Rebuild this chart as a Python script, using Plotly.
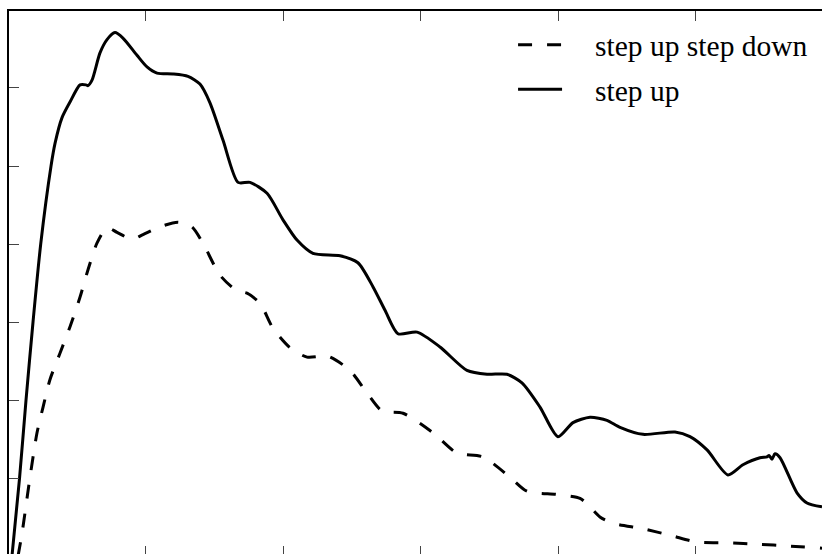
import plotly.graph_objects as go

# x in axis units (ticks every 10), y in axis units (ticks every 1)
step_up_x = [0.29, 0.84, 1.31, 1.82, 2.38, 3.13, 3.42, 3.93, 4.51, 5.24, 5.67, 5.82, 6.11,
             6.69, 7.20, 7.78, 8.36, 9.38, 10.11, 10.84, 12.00, 13.09, 13.96, 14.69, 15.64,
             16.73, 17.60, 18.84, 20.00, 21.02, 22.18, 24.15, 25.45, 26.55, 27.42, 28.36,
             29.75, 31.42, 33.38, 34.84, 36.29, 37.38, 38.69, 40.00, 41.09, 42.33, 43.56,
             44.51, 46.18, 48.51, 49.60, 50.84, 52.36, 53.45, 54.69, 55.20, 55.35, 55.56,
             55.78, 56.15, 57.38, 58.11, 59.20]
step_up_y = [0.00, 1.00, 2.00, 3.00, 4.00, 5.00, 5.29, 5.62, 5.82, 6.04, 6.04, 6.03, 6.10,
             6.45, 6.62, 6.71, 6.64, 6.42, 6.27, 6.19, 6.18, 6.15, 6.05, 5.81, 5.33,
             4.79, 4.79, 4.65, 4.31, 4.05, 3.88, 3.85, 3.76, 3.45, 3.15, 2.85,
             2.87, 2.68, 2.38, 2.33, 2.33, 2.22, 1.91, 1.53, 1.71, 1.78, 1.74,
             1.65, 1.56, 1.59, 1.53, 1.36, 1.04, 1.17, 1.26, 1.27, 1.29, 1.24,
             1.31, 1.26, 0.81, 0.68, 0.63]

step_updown_x = [0.73, 1.02, 1.60, 2.11, 2.55, 3.05, 3.78, 4.51, 5.24, 5.82, 6.47, 7.20,
                 7.93, 9.02, 9.82, 11.05, 12.36, 13.38, 14.18, 15.42, 16.65, 17.38, 18.33,
                 19.27, 20.51, 21.75, 23.27, 24.87, 26.11, 27.20, 28.73, 30.91, 32.65,
                 34.55, 36.51, 37.75, 39.93, 41.60, 42.33, 43.05, 44.00, 46.18, 48.29,
                 50.11, 52.29, 54.69, 56.65, 59.20]
step_updown_y = [0.00, 0.29, 1.01, 1.58, 1.91, 2.26, 2.60, 2.94, 3.32, 3.67, 4.01, 4.21,
                 4.15, 4.06, 4.12, 4.22, 4.28, 4.22, 4.01, 3.60, 3.40, 3.37, 3.24,
                 2.92, 2.67, 2.55, 2.56, 2.38, 2.09, 1.86, 1.83, 1.58, 1.32,
                 1.27, 1.01, 0.83, 0.79, 0.74, 0.63, 0.50, 0.42, 0.35, 0.26,
                 0.18, 0.17, 0.15, 0.13, 0.10]

x_ticks = [10, 20, 30, 40, 50]
y_ticks = [1, 2, 3, 4, 5, 6]
x_range = [0.073, 59.2]
y_range = [0.026, 6.987]

PAD = "\u00a0" * 3 + "\u2009"
fig = go.Figure()
fig.add_trace(go.Scatter(x=step_updown_x, y=step_updown_y, mode="lines",
                         name=PAD + "step up step down", legendgroup="a",
                         line=dict(color="black", width=3, dash="14px,15px",
                                   shape="spline", smoothing=0.7)))
fig.add_trace(go.Scatter(x=step_up_x, y=step_up_y, mode="lines", name=PAD + "step up",
                         legendgroup="b",
                         line=dict(color="black", width=3, shape="spline", smoothing=0.7)))

fig.update_layout(
    width=822, height=554,
    margin=dict(l=9, r=0, t=11, b=0),
    paper_bgcolor="white", plot_bgcolor="white",
    font=dict(family="Liberation Serif", color="black"),
    xaxis=dict(range=x_range, tickvals=x_ticks, showticklabels=False, ticks="inside",
               ticklen=8, tickwidth=1, tickcolor="#444", showline=False,
               showgrid=False, zeroline=False),
    xaxis2=dict(range=x_range, tickvals=x_ticks, showticklabels=False, ticks="inside",
                ticklen=10, tickwidth=1, tickcolor="#444", showline=True,
                linecolor="black", linewidth=1.5, overlaying="x", side="top",
                showgrid=False, zeroline=False),
    yaxis=dict(range=y_range, tickvals=y_ticks, showticklabels=False, ticks="inside",
               ticklen=10, tickwidth=1, tickcolor="#444", showline=True,
               linecolor="black", linewidth=1.5, showgrid=False, zeroline=False),
    legend=dict(x=0.62, y=0.985, xanchor="left", yanchor="top",
                bgcolor="rgba(0,0,0,0)", font=dict(family="Liberation Serif", size=29.5),
                itemwidth=44, tracegroupgap=3),
    showlegend=True,
)
# invisible trace to anchor the top axis
fig.add_trace(go.Scatter(x=[x_range[0]], y=[y_range[0]], xaxis="x2", mode="markers",
                         marker=dict(opacity=0), showlegend=False, hoverinfo="skip"))
fig.write_html("out.html",
               config={"displayModeBar": False},
               post_script="document.body.style.margin='0';"
                           "document.body.style.overflow='hidden';")
